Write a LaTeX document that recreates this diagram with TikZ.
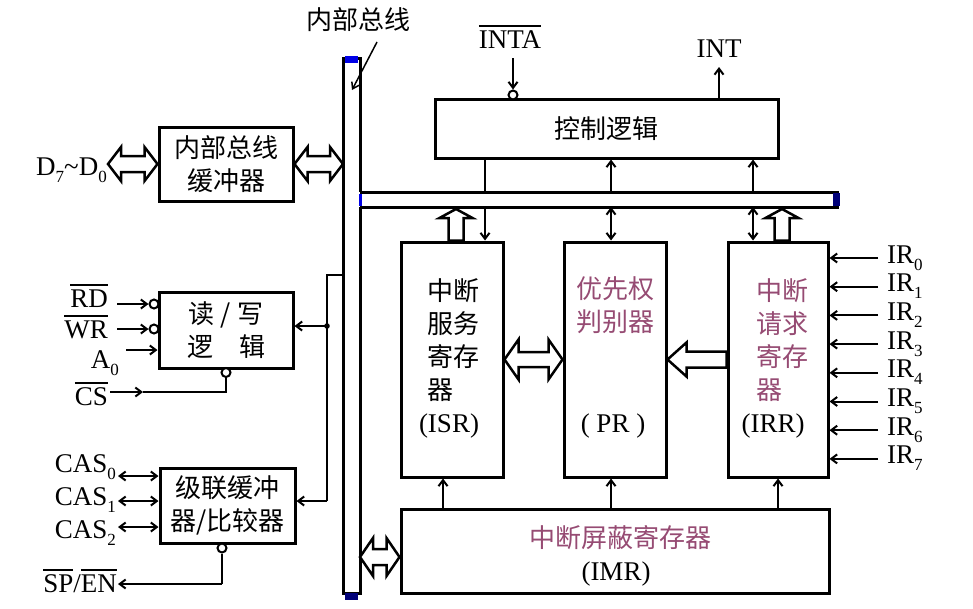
\documentclass[tikz,border=0pt]{standalone}
\usepackage{fontspec}
\setmainfont{Liberation Serif}
\newfontfamily\cjk{Noto Sans CJK SC}
\usetikzlibrary{arrows.meta,calc}
\definecolor{mauve}{RGB}{150,75,115}
\definecolor{busblue}{RGB}{0,0,230}
\definecolor{busnavy}{RGB}{0,0,120}
\newcommand\lsb[1]{\raisebox{-0.26em}{\fontsize{17}{17}\selectfont #1}}
\newcommand\ovl[1]{\vbox{\hrule height 1.6pt\kern 3.5pt\hbox{#1}}}
% horizontal double fat arrow: #1 left tip, #2 right tip, #3 head length, #4 head half, #5 shaft half
\newcommand\hdbl[5]{\draw[fat] let \p1=(#1), \p2=(#2) in
 (\x1,\y1) -- (\x1+#3pt,\y1+#4pt) -- (\x1+#3pt,\y1+#5pt) -- (\x2-#3pt,\y1+#5pt) -- (\x2-#3pt,\y1+#4pt) -- (\x2,\y1)
 -- (\x2-#3pt,\y1-#4pt) -- (\x2-#3pt,\y1-#5pt) -- (\x1+#3pt,\y1-#5pt) -- (\x1+#3pt,\y1-#4pt) -- cycle;}
% upward fat arrow: #1 tail, #2 tip
\newcommand\vup[5]{\draw[fat] let \p1=(#1), \p2=(#2) in
 (\x2,\y2) -- (\x2+#4pt,\y2-#3pt) -- (\x2+#5pt,\y2-#3pt) -- (\x2+#5pt,\y1) -- (\x2-#5pt,\y1) -- (\x2-#5pt,\y2-#3pt) -- (\x2-#4pt,\y2-#3pt) -- cycle;}
% leftward fat arrow: #1 tail (right), #2 tip (left)
\newcommand\hleft[5]{\draw[fat] let \p1=(#1), \p2=(#2) in
 (\x2,\y2) -- (\x2+#3pt,\y2+#4pt) -- (\x2+#3pt,\y2+#5pt) -- (\x1,\y2+#5pt) -- (\x1,\y2-#5pt) -- (\x2+#3pt,\y2-#5pt) -- (\x2+#3pt,\y2-#4pt) -- cycle;}
\begin{document}
\begin{tikzpicture}[x=1pt,y=-1pt,
  lat/.style={font=\fontsize{27}{30}\selectfont, inner sep=0pt},
  zh/.style={font=\cjk\fontsize{26}{33}\selectfont, inner sep=0pt},
  box/.style={draw, line width=3pt, inner sep=0pt, zh, align=center},
  wire/.style={line width=2pt},
  sig/.style={wire, -{Straight Barb[length=6pt,width=9pt]}},
  sigb/.style={wire, {Straight Barb[length=6pt,width=9pt]}-{Straight Barb[length=6pt,width=9pt]}},
  bubble/.style={circle, draw, line width=2pt, fill=white, minimum size=9pt, inner sep=0pt},
  fat/.style={draw, line width=2.5pt, fill=white, line join=miter},
  bus/.style={line width=3pt},
]
\useasboundingbox[fill=white] (0,0) rectangle (973,608);

% ---------- boxes ----------
\node[box, minimum width=134pt, minimum height=74pt] (buf) at (226,164) {内部总线\\缓冲器};
\node[box, minimum width=134pt, minimum height=76pt] (rw) at (226,330) {读\hspace{0.25em}/\hspace{0.25em}写\\逻\hspace{1em}辑};
\node[box, minimum width=135pt, minimum height=75pt] (cas) at (227.5,505.5) {级联缓冲\\器/比较器};
\node[box, minimum width=343pt, minimum height=59pt] (ctrl) at (606.5,128.5) {控制逻辑};
\node[box, minimum width=102pt, minimum height=235pt] (isr) at (452,359.5) {};
\node[box, minimum width=102pt, minimum height=235pt] (pr) at (615,359.5) {};
\node[box, minimum width=100pt, minimum height=235pt] (irr) at (778,359.5) {};
\node[box, minimum width=428pt, minimum height=84pt] (imr) at (615,551) {};

% ---------- box texts ----------
\node[zh, anchor=west, align=left] (isrt) at (427,340) {中断\\服务\\寄存\\器};
\node[lat, anchor=base] (isrn) at (449,432) {(ISR)};
\node[zh, text=mauve, align=center] (prt) at (615,305.5) {优先权\\判别器};
\node[lat, anchor=base] (prn) at (613,432) {( PR )};
\node[zh, text=mauve, anchor=west, align=left] (irrt) at (756,340) {中断\\请求\\寄存\\器};
\node[lat, anchor=base] (irrn) at (773,432) {(IRR)};
\node[zh, text=mauve] (imrt) at (620,538) {中断屏蔽寄存器};
\node[lat, anchor=base] (imrn) at (616,580) {(IMR)};

% ---------- buses ----------
\coordinate (vbL) at (343,58);
\coordinate (vbR) at (360,58);
\coordinate (hbT) at (0,192);
\coordinate (hbB) at (0,207);
\draw[bus] (vbR |- hbT) -- (vbR) -- (vbL) -- (343,593) -- (360,593) -- (vbR |- hbB);
\draw[bus] (vbR |- hbT) -- (837,192) -- (837,207) -- (vbR |- hbB);
\fill[busblue] (345,56) rectangle (358,63);
\fill[busnavy] (345,593) rectangle (358,600);
\fill[busnavy] (833,193) rectangle (840,206);
\fill[busblue] (359,193.5) rectangle (362,205.5);

\node[zh] (buslbl) at (358,20) {内部总线};
\coordinate (busptrS) at (377,42);
\coordinate (busptrE) at (352,90);
\draw[line width=1.5pt, -{Straight Barb[length=6pt,width=8pt]}] (busptrS) -- (busptrE);

% ---------- control logic links ----------
\coordinate (c485) at (485,0);
\coordinate (c611) at (611,0);
\coordinate (c753) at (753,0);
\draw[wire] (ctrl.south -| c485) -- (hbT -| c485);
\draw[sig] (hbB -| c485) -- (isr.north -| c485);
\draw[sig] (hbT -| c611) -- (ctrl.south -| c611);
\draw[sigb] (hbB -| c611) -- (pr.north -| c611);
\draw[sig] (hbT -| c753) -- (ctrl.south -| c753);
\draw[sigb] (hbB -| c753) -- (irr.north -| c753);

\node[lat, anchor=base] (inta) at (510,48) {\ovl{INTA}};
\coordinate (intaS) at (513,58);
\node[bubble] (intab) at (513,95) {};
\draw[sig] (intaS) -- (intab.north);
\node[lat, anchor=base] (int) at (719,57) {INT};
\coordinate (intN) at (719,67);
\draw[sig] (ctrl.north -| intN) -- (intN);

% ---------- fat arrows ----------
\coordinate (d7tip) at (108,164);
\hdbl{d7tip}{buf.west}{13}{17}{8}
\hdbl{buf.east}{buf.east -| vbL}{13}{17}{8}
\hdbl{isr.east}{pr.west}{14}{20}{7.5}
\coordinate (imrA) at (360,557);
\hdbl{imrA}{imr.west |- imrA}{13}{19}{8}
\hleft{irr.west}{pr.east}{19}{17}{8}
\coordinate (isrup) at (456,209);
\coordinate (irrup) at (782,209);
\vup{isr.north -| isrup}{isrup}{9}{16.5}{7.5}
\vup{irr.north -| irrup}{irrup}{9}{16.5}{7.5}

% IMR -> registers
\coordinate (c443) at (443,0);
\coordinate (c778) at (778,0);
\draw[sig] (imr.north -| c443) -- (isr.south -| c443);
\draw[sig] (imr.north -| c611) -- (pr.south -| c611);
\draw[sig] (imr.north -| c778) -- (irr.south -| c778);

% ---------- left side ----------
\node[lat, anchor=base east] (dlbl) at (107,175) {D\lsb{7}\textasciitilde D\lsb{0}};

\node[lat, anchor=base east] (rd) at (108,307) {\ovl{RD}};
\node[bubble] (rdb) at (154,304) {};
\coordinate (rdS) at (117,304);
\draw[sig] (rdS) -- (rdb.west);
\node[lat, anchor=base east] (wr) at (108,338) {\ovl{WR}};
\node[bubble] (wrb) at (154,329) {};
\coordinate (wrS) at (117,329);
\draw[sig] (wrS) -- (wrb.west);
\node[lat, anchor=base east] (a0) at (119,368) {A\lsb{0}};
\coordinate (a0S) at (126,350);
\draw[sig] (a0S) -- (rw.west |- a0S);
\node[lat, anchor=base east] (cs) at (108,405) {\ovl{CS}};
\node[bubble] (csb) at (226,372.5) {};
\coordinate (csS) at (110,392);
\coordinate (csM) at (143,392);
\draw[sig] (csS) -- (csM);
\draw[wire] (csM) -- (csb.south |- csM) -- (csb.south);

% bus -> R/W and cascade
\coordinate (tapT) at (327,275);
\coordinate (tapRW) at (327,326);
\coordinate (tapCAS) at (327,501);
\draw[wire] (vbL |- tapT) -- (tapT) -- (tapCAS);
\fill (tapRW) circle (2.8pt);
\draw[sig] (tapRW) -- (rw.east |- tapRW);
\draw[sig] (tapCAS) -- (cas.east |- tapCAS);

% cascade
\foreach \k/\yb/\ya in {0/472/476, 1/505/501, 2/538/527}{
  \node[lat, anchor=base east] (casl\k) at (116,\yb) {CAS\lsb{\k}};
  \coordinate (casS\k) at (118,\ya);
  \draw[sigb] (casS\k) -- (cas.west |- casS\k);
}
\node[bubble] (casb) at (222,548) {};
\coordinate (spC) at (222,584);
\coordinate (spE) at (118,584);
\draw[wire] (casb.south) -- (spC);
\draw[sig] (spC) -- (spE);
\node[lat, anchor=base east] (spen) at (117,592) {\ovl{SP}/\ovl{EN}};

% ---------- IR inputs ----------
\foreach \k in {0,...,7}{
  \pgfmathsetmacro\ya{258+28.7*\k}
  \pgfmathsetmacro\yb{263+28.7*\k}
  \coordinate (ir\k) at (878,\ya);
  \draw[sig] (ir\k) -- (irr.east |- ir\k);
  \node[lat, anchor=base west] (irl\k) at (887,\yb) {IR\lsb{\k}};
}
\end{tikzpicture}
\end{document}
